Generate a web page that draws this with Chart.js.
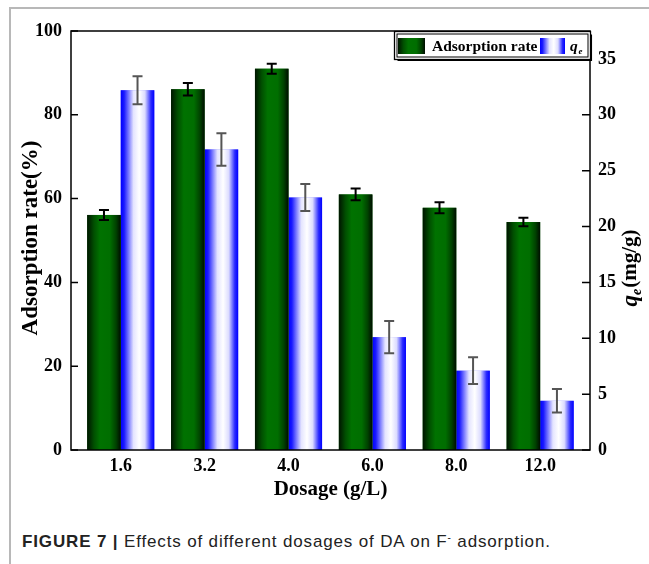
<!DOCTYPE html>
<html><head><meta charset="utf-8">
<script src="https://cdn.jsdelivr.net/npm/chart.js@4.4.1/dist/chart.umd.min.js"></script>
<style>
html,body{margin:0;padding:0;background:#fff;}
#wrap{position:relative;width:649px;height:564px;overflow:hidden;background:#fff;}
#frame{position:absolute;left:9px;top:7px;width:660px;height:600px;border-left:2px solid #b8b8b8;border-top:2px solid #b8b8b8;}
#box{position:absolute;left:0;top:0;width:649px;height:512px;}
#cap{position:absolute;left:22px;top:532px;font-family:"Liberation Sans",Arial,sans-serif;font-size:17px;letter-spacing:0.85px;color:#222;white-space:nowrap;}
#cap sup{font-size:10px;vertical-align:6px;line-height:0;}
</style></head>
<body>
<div id="wrap">
<div id="frame"></div>
<div id="box"><canvas id="cv" width="649" height="512"></canvas></div>
<div id="cap"><b>FIGURE 7 |</b> Effects of different dosages of DA on F<sup>-</sup> adsorption.</div>
</div>
<script>
const categories = ['1.6', '3.2', '4.0', '6.0', '8.0', '12.0'];
const adsorptionRate = [56.1, 86.1, 91.0, 61.0, 57.8, 54.4];
const adsorptionErr = [1.2, 1.5, 1.2, 1.4, 1.3, 1.0];
const qe = [32.2, 26.9, 22.6, 10.1, 7.1, 4.4];
const qeErr = [1.25, 1.45, 1.2, 1.45, 1.2, 1.05];
const leftTicks = [0, 20, 40, 60, 80, 100];
const rightTicks = [0, 5, 10, 15, 20, 25, 30, 35];

const GREEN_STOPS = [[0,'#001400'],[0.2,'#004f00'],[0.38,'#007200'],[0.68,'#006e00'],[0.86,'#004200'],[1,'#000d00']];
const BLUE_STOPS = [[0,'#0000ff'],[0.1,'#1a1aff'],[0.38,'#e4e4ff'],[0.55,'#ffffff'],[0.72,'#dcdcff'],[0.9,'#2a2aff'],[1,'#0000ff']];
const STOPS = [GREEN_STOPS, BLUE_STOPS];
const ERRS = [adsorptionErr, qeErr];
const ERRCOL = ['#000000', '#555555'];
const SERIF = '"Liberation Serif", "Times New Roman", serif';

function grad(ctx, x0, x1, stops) {
  const g = ctx.createLinearGradient(x0, 0, x1, 0);
  stops.forEach(s => g.addColorStop(s[0], s[1]));
  return g;
}

const gradBars = {
  id: 'gradBars',
  afterDatasetDraw(chart, args) {
    const ctx = chart.ctx;
    const meta = args.meta;
    ctx.save();
    meta.data.forEach(el => {
      const p = el.getProps(['x', 'y', 'base', 'width'], true);
      const l = p.x - p.width / 2;
      ctx.fillStyle = grad(ctx, l, l + p.width, STOPS[args.index]);
      ctx.fillRect(l, p.y, p.width, p.base - p.y);
    });
    ctx.restore();
  }
};

const deco = {
  id: 'deco',
  afterDatasetsDraw(chart) {
    const ctx = chart.ctx;
    const a = chart.chartArea;
    chart.data.datasets.forEach((ds, di) => {
      const meta = chart.getDatasetMeta(di);
      const ys = chart.scales[ds.yAxisID];
      ctx.save();
      ctx.strokeStyle = ERRCOL[di];
      ctx.lineWidth = 2;
      meta.data.forEach((el, i) => {
        const v = ds.data[i].y, e = ERRS[di][i];
        const x = el.getProps(['x'], true).x;
        const t = ys.getPixelForValue(v + e), b = ys.getPixelForValue(v - e);
        ctx.beginPath();
        ctx.moveTo(x, t); ctx.lineTo(x, b);
        ctx.moveTo(x - 5, t); ctx.lineTo(x + 5, t);
        ctx.moveTo(x - 5, b); ctx.lineTo(x + 5, b);
        ctx.stroke();
      });
      ctx.restore();
    });
    ctx.save();
    ctx.strokeStyle = '#000';
    ctx.lineWidth = 1.5;
    ctx.strokeRect(a.left, a.top, a.right - a.left, a.bottom - a.top);
    ctx.beginPath();
    leftTicks.forEach(v => {
      const y = chart.scales.y.getPixelForValue(v);
      ctx.moveTo(a.left, y); ctx.lineTo(a.left + 7, y);
    });
    rightTicks.forEach(v => {
      const y = chart.scales.y1.getPixelForValue(v);
      ctx.moveTo(a.right, y); ctx.lineTo(a.right - 8, y);
    });
    ctx.stroke();
    ctx.restore();
  },
  afterDraw(chart) {
    const ctx = chart.ctx;
    const a = chart.chartArea;
    ctx.save();
    ctx.fillStyle = '#000';
    ctx.save();
    ctx.translate(31, 238);
    ctx.rotate(-Math.PI / 2);
    ctx.font = 'bold 23px ' + SERIF;
    ctx.textAlign = 'center';
    ctx.textBaseline = 'middle';
    ctx.fillText('Adsorption rate(%)', 0, 0);
    ctx.restore();
    ctx.font = 'bold 21px ' + SERIF;
    ctx.textAlign = 'center';
    ctx.textBaseline = 'middle';
    ctx.fillText('Dosage (g/L)', (a.left + a.right) / 2, 490);
    ctx.save();
    ctx.translate(631, 268);
    ctx.rotate(-Math.PI / 2);
    ctx.textAlign = 'left';
    ctx.textBaseline = 'middle';
    const fq = 'italic bold 23px ' + SERIF, fe = 'italic bold 14px ' + SERIF, fr = 'bold 21px ' + SERIF;
    ctx.font = fq; const wq = ctx.measureText('q').width;
    ctx.font = fe; const we = ctx.measureText('e').width;
    ctx.font = fr; const wr = ctx.measureText('(mg/g)').width;
    let x0 = -(wq + we + wr + 1) / 2;
    ctx.font = fq; ctx.fillText('q', x0, 0);
    ctx.font = fe; ctx.fillText('e', x0 + wq, 6);
    ctx.font = fr; ctx.fillText('(mg/g)', x0 + wq + we + 1, 0);
    ctx.restore();
    const L = 394.5, T = 31.5, R = 590.5, B = 59.5;
    ctx.fillStyle = '#fff';
    ctx.fillRect(L, T, R - L, B - T);
    ctx.strokeStyle = '#000';
    ctx.lineWidth = 1.3;
    ctx.strokeRect(L, T, R - L, B - T);
    ctx.lineWidth = 1;
    ctx.strokeRect(L + 2.5, T + 2.5, R - L - 5, B - T - 5);
    ctx.lineWidth = 1.5;
    ctx.beginPath();
    ctx.moveTo(L + 3, B + 0.8); ctx.lineTo(R + 0.8, B + 0.8); ctx.lineTo(R + 0.8, T + 3);
    ctx.stroke();
    ctx.fillStyle = grad(ctx, 398, 425, GREEN_STOPS);
    ctx.fillRect(398, 38, 27, 16);
    ctx.fillStyle = grad(ctx, 540, 565, BLUE_STOPS);
    ctx.fillRect(540, 38, 25, 16);
    ctx.fillStyle = '#000';
    ctx.textAlign = 'left';
    ctx.textBaseline = 'alphabetic';
    ctx.font = 'bold 15.5px ' + SERIF;
    ctx.fillText('Adsorption rate', 432, 51);
    ctx.font = 'italic bold 15.5px ' + SERIF;
    ctx.fillText('q', 570, 51);
    ctx.font = 'italic bold 9px ' + SERIF;
    ctx.fillText('e', 578.5, 54);
    ctx.restore();
  }
};

const tickFont = { family: SERIF, weight: 'bold', size: 18 };

new Chart(document.getElementById('cv'), {
  type: 'bar',
  data: {
    datasets: [
      {
        label: 'Adsorption rate',
        data: adsorptionRate.map((v, i) => ({ x: i, y: v })),
        yAxisID: 'y',
        backgroundColor: '#006e00',
        borderWidth: 0,
        categoryPercentage: 0.8,
        barPercentage: 1.0
      },
      {
        label: 'qe',
        data: qe.map((v, i) => ({ x: i, y: v })),
        yAxisID: 'y1',
        backgroundColor: '#8080ff',
        borderWidth: 0,
        categoryPercentage: 0.8,
        barPercentage: 1.0
      }
    ]
  },
  options: {
    responsive: false,
    animation: false,
    devicePixelRatio: 1,
    layout: { padding: { top: 31, left: 0, right: 0, bottom: 0 } },
    plugins: { legend: { display: false }, tooltip: { enabled: false } },
    scales: {
      x: {
        type: 'linear',
        min: -0.593,
        max: 5.594,
        offset: false,
        afterBuildTicks: s => { s.ticks = categories.map((c, i) => ({ value: i })); },
        afterFit: s => { s.height = 62; },
        ticks: {
          callback: v => (categories[v] !== undefined ? categories[v] : ''),
          font: tickFont, color: '#000', padding: 6, maxRotation: 0, autoSkip: false
        },
        grid: { display: false, drawTicks: false },
        border: { display: false }
      },
      y: {
        position: 'left',
        min: 0, max: 100,
        afterBuildTicks: s => { s.ticks = leftTicks.map(v => ({ value: v })); },
        afterFit: s => { s.width = 71; },
        ticks: { font: tickFont, color: '#000', padding: 9 },
        grid: { display: false, drawTicks: false },
        border: { display: false }
      },
      y1: {
        position: 'right',
        min: 0, max: 37.5,
        afterBuildTicks: s => { s.ticks = rightTicks.map(v => ({ value: v })); },
        afterFit: s => { s.width = 59; },
        ticks: { font: tickFont, color: '#000', padding: 8 },
        grid: { display: false, drawTicks: false },
        border: { display: false }
      }
    }
  },
  plugins: [gradBars, deco]
});
</script>
</body></html>
